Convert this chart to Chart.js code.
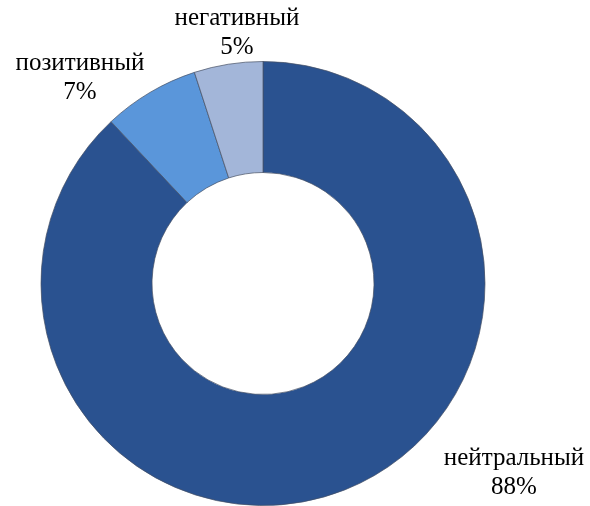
<!DOCTYPE html>
<html>
<head>
<meta charset="utf-8">
<script src="https://cdn.jsdelivr.net/npm/chart.js@4/dist/chart.umd.min.js"></script>
<style>
  html, body { margin: 0; padding: 0; background: #fff; }
  #chart { display: block; }
</style>
</head>
<body>
<canvas id="chart" width="590" height="506"></canvas>
<script>
// Data
const categories = ['нейтральный', 'позитивный', 'негативный'];
const shares = [88, 7, 5];
const percentLabels = ['88%', '7%', '5%'];

const sliceColors = ['#2a5290', '#5a96da', '#a3b6d9'];

// label anchor: offset (px) from the ring centre, per category
const labelOffsets = [
    { dx: 251, dy: 189 },
    { dx: -183, dy: -206 },
    { dx: -26, dy: -251 }
];

// Draws category + percent labels outside the ring
const outsideLabels = {
    id: 'outsideLabels',
    afterDatasetsDraw(chart) {
        const ctx = chart.ctx;
        const meta = chart.getDatasetMeta(0);
        ctx.save();
        ctx.fillStyle = '#000';
        ctx.font = '25px "Liberation Serif", "Times New Roman", serif';
        ctx.textAlign = 'center';
        ctx.textBaseline = 'middle';
        meta.data.forEach((arc, i) => {
            const x = arc.x + labelOffsets[i].dx;
            const y = arc.y + labelOffsets[i].dy;
            ctx.fillText(categories[i], x, y - 14);
            ctx.fillText(percentLabels[i], x, y + 15);
        });
        ctx.restore();
    }
};

const ctx = document.getElementById('chart').getContext('2d');
new Chart(ctx, {
    type: 'doughnut',
    data: {
        labels: categories,
        datasets: [{
            data: shares,
            backgroundColor: sliceColors,
            borderColor: 'rgba(70, 80, 100, 0.7)',
            borderWidth: 1
        }]
    },
    options: {
        responsive: false,
        animation: false,
        cutout: '50%',
        layout: {
            padding: { top: 61, bottom: 0, left: 40, right: 104 }
        },
        plugins: {
            legend: { display: false },
            tooltip: { enabled: false }
        }
    },
    plugins: [outsideLabels]
});
</script>
</body>
</html>
